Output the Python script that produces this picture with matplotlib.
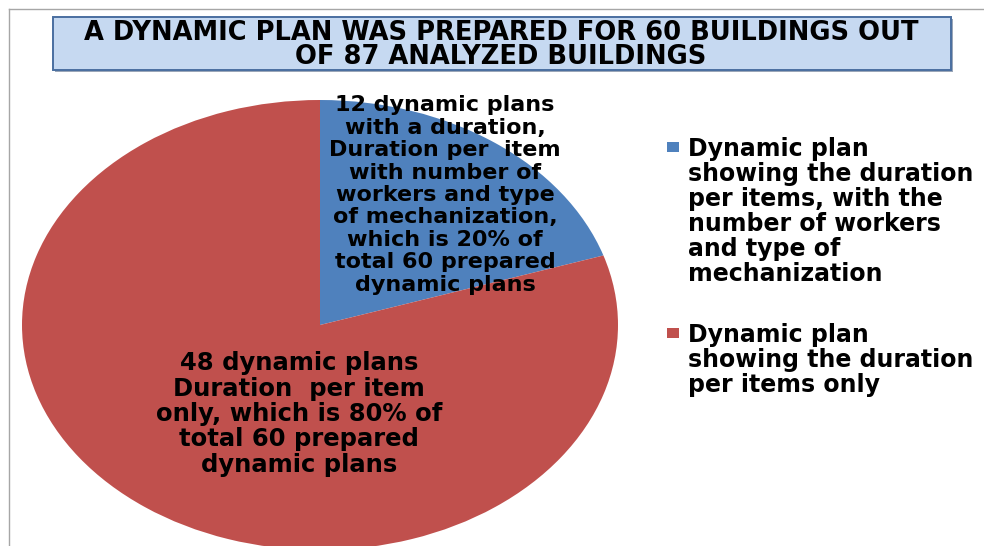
import matplotlib
matplotlib.use('Agg')
import matplotlib.pyplot as plt
from matplotlib.patches import Rectangle
from matplotlib.lines import Line2D

title = "A DYNAMIC PLAN WAS PREPARED FOR 60 BUILDINGS OUT\nOF 87 ANALYZED BUILDINGS"
categories = ["Dynamic plan\nshowing the duration\nper items, with the\nnumber of workers\nand type of\nmechanization",
              "Dynamic plan\nshowing the duration\nper items only"]
values = [12, 48]
colors = ["#4F81BD", "#C0504D"]
slice_labels = ["12 dynamic plans\nwith a duration,\nDuration per  item\nwith number of\nworkers and type\nof mechanization,\nwhich is 20% of\ntotal 60 prepared\ndynamic plans",
                "48 dynamic plans\nDuration  per item\nonly, which is 80% of\ntotal 60 prepared\ndynamic plans"]

W, H = 984, 546
fig = plt.figure(figsize=(W / 100, H / 100), dpi=100)


def fx(px):
    return px / W


def fy(py):
    return 1 - py / H


font = ['DejaVu Sans']

# frame lines
fig.add_artist(Line2D([fx(8.5), fx(8.5)], [fy(9), fy(546)], color='#A6A6A6', lw=1))
fig.add_artist(Line2D([fx(8.5), fx(984)], [fy(9), fy(9)], color='#A6A6A6', lw=1))

# pie
ax = fig.add_axes([fx(22), fy(550), fx(618) - fx(22), fy(100) - fy(550)])
wedges, _ = ax.pie(values, colors=colors, startangle=90, counterclock=False,
                   radius=1, wedgeprops=dict(linewidth=0))
ax.set_aspect('auto')
ax.set_xlim(-1, 1)
ax.set_ylim(-1, 1)
ax.axis('off')

# title box
fig.add_artist(Rectangle((fx(55), fy(72)), fx(953) - fx(55), fy(19) - fy(72),
                         transform=fig.transFigure, facecolor='#9AA6B8', edgecolor='none', zorder=1))
fig.add_artist(Rectangle((fx(53), fy(70)), fx(951) - fx(53), fy(17) - fy(70),
                         transform=fig.transFigure, facecolor='#C6D9F1', edgecolor='#4A6FA0', lw=1.4, zorder=2))
fig.text(fx(501), fy(45), title, ha='center', va='center', fontsize=18.5, fontweight='bold',
         family=font, linespacing=0.86, zorder=3)

# slice labels
fig.text(fx(445), fy(195), slice_labels[0], ha='center', va='center', fontsize=16,
         fontweight='bold', family=font, linespacing=1.15)
fig.text(fx(299), fy(414), slice_labels[1], ha='center', va='center', fontsize=17.5,
         fontweight='bold', family=font, linespacing=1.07)

# legend
leg_y = [147, 333]
for i, (lab, col) in enumerate(zip(categories, colors)):
    y = leg_y[i]
    fig.add_artist(Rectangle((fx(667), fy(y + 5)), fx(679) - fx(667), fy(y - 5) - fy(y + 5),
                             transform=fig.transFigure, facecolor=col, edgecolor='none'))
    fig.text(fx(688), fy(y - 10), lab, ha='left', va='top', fontsize=17, fontweight='bold',
             family=font, linespacing=1.05)

fig.savefig('out.png', dpi=100)
